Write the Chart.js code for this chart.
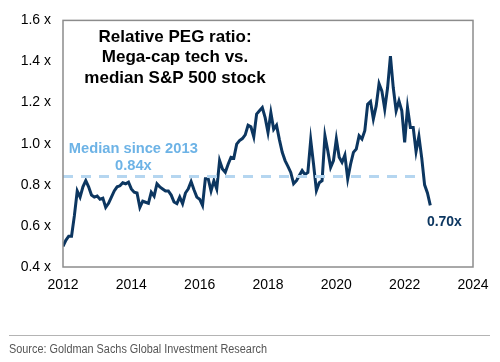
<!DOCTYPE html>
<html>
<head>
<meta charset="utf-8">
<script src="https://cdn.jsdelivr.net/npm/chart.js@4"></script>
<style>
  html, body { margin: 0; padding: 0; background: #fff; }
  #wrap { width: 500px; height: 362px; }
</style>
</head>
<body>
<div id="wrap"><canvas id="pegChart" width="500" height="362"></canvas></div>
<script>
// monthly relative PEG ratio, Jan 2012 .. Oct 2022
const startYear = 2012;
const pegValues = [
    0.50, 0.53, 0.55, 0.55, 0.65, 0.77, 0.74, 0.79, 0.82, 0.79, 0.75, 0.74,
    0.745, 0.73, 0.735, 0.69, 0.71, 0.74, 0.77, 0.79, 0.795, 0.81, 0.805, 0.813,
    0.78, 0.764, 0.76, 0.69, 0.72, 0.715, 0.71, 0.764, 0.745, 0.805, 0.79, 0.78,
    0.77, 0.77, 0.75, 0.716, 0.708, 0.74, 0.708, 0.76, 0.78, 0.816, 0.776, 0.74,
    0.73, 0.70, 0.83, 0.83, 0.77, 0.82, 0.78, 0.918, 0.877, 0.861, 0.90, 0.934,
    0.93, 0.998, 1.015, 1.025, 1.043, 1.09, 1.082, 1.034, 1.144, 1.16, 1.176, 1.127,
    1.055, 1.151, 1.07, 1.09, 1.02, 0.958, 0.918, 0.89, 0.86, 0.805, 0.82, 0.845,
    0.869, 0.85, 0.86, 1.018, 0.90, 0.772, 0.81, 0.82, 1.039, 0.966, 0.885, 0.918,
    1.023, 0.934, 0.91, 0.945, 0.829, 0.90, 0.958, 0.974, 1.039, 1.023, 1.063, 1.192,
    1.205, 1.12, 1.184, 1.292, 1.256, 1.168, 1.272, 1.426, 1.272, 1.16, 1.208, 1.16,
    1.006, 1.176, 1.079, 1.079, 0.962, 1.036, 0.93, 0.80, 0.76, 0.70
];
const medianValue = 0.84;
const medianSpan = [2012, 2022.5];
const yTicks = [0.4, 0.6, 0.8, 1.0, 1.2, 1.4, 1.6];
const xTicks = [2012, 2014, 2016, 2018, 2020, 2022, 2024];
const titleLines = ['Relative PEG ratio:', 'Mega-cap tech vs.', 'median S&P 500 stock'];

const FONT = "'Liberation Sans', Arial, sans-serif";

const pegPoints = pegValues.map((v, i) => ({x: startYear + i / 12, y: v}));
const medianPoints = medianSpan.map(x => ({x: x, y: medianValue}));

// texts + frame + source line
const decoPlugin = {
    id: 'deco',
    afterDraw(chart) {
        const c = chart.ctx;
        const xs = chart.scales.x, ys = chart.scales.y;
        const a = chart.chartArea;
        c.save();
        // frame
        c.strokeStyle = '#8c8c8c';
        c.lineWidth = 1.5;
        c.strokeRect(a.left, a.top, a.right - a.left, a.bottom - a.top);

        // title
        c.fillStyle = '#000';
        c.font = 'bold 17px ' + FONT;
        c.textAlign = 'center';
        c.textBaseline = 'middle';
        const tx = xs.getPixelForValue(2015.28);
        const ty = ys.getPixelForValue(1.52);
        titleLines.forEach((t, i) => c.fillText(t, tx, ty + i * 20.5));

        // median annotation
        c.fillStyle = '#6db3e6';
        c.font = 'bold 14.7px ' + FONT;
        c.textAlign = 'left';
        c.fillText('Median since 2013', xs.getPixelForValue(2012.17), ys.getPixelForValue(0.976));
        c.textAlign = 'center';
        c.fillText('0.84x', xs.getPixelForValue(2014.06), ys.getPixelForValue(0.893));

        // last value
        c.fillStyle = '#0c3660';
        c.font = 'bold 14px ' + FONT;
        c.textAlign = 'left';
        c.fillText('0.70x', xs.getPixelForValue(2022.65), ys.getPixelForValue(0.618));

        // source
        c.strokeStyle = '#b4b4b4';
        c.lineWidth = 1;
        c.beginPath();
        c.moveTo(9, 335.5);
        c.lineTo(490, 335.5);
        c.stroke();
        c.fillStyle = '#555';
        c.font = '12px ' + FONT;
        const src = 'Source: Goldman Sachs Global Investment Research';
        const w = c.measureText(src).width;
        c.translate(9, 350);
        c.scale(258 / w, 1);
        c.fillText(src, 0, 0);
        c.restore();
    }
};

document.addEventListener('DOMContentLoaded', function() {
    const ctx = document.getElementById('pegChart').getContext('2d');
    const data = {
        datasets: [
            {
                label: 'Median since 2013',
                data: medianPoints,
                borderColor: '#b5d6f0',
                borderWidth: 3,
                borderDash: [10, 8],
                pointRadius: 0
            },
            {
                label: 'Relative PEG ratio',
                data: pegPoints,
                borderColor: '#0c3660',
                borderWidth: 3,
                pointRadius: 0,
                tension: 0
            }
        ]
    };
    const config = {
        type: 'line',
        data: data,
        options: {
            responsive: false,
            animation: false,
            layout: {
                padding: {left: 0, right: 27, top: 19, bottom: 0}
            },
            plugins: {
                legend: {display: false},
                tooltip: {enabled: false}
            },
            scales: {
                x: {
                    type: 'linear',
                    min: 2012,
                    max: 2024,
                    afterBuildTicks: s => { s.ticks = xTicks.map(v => ({value: v})); },
                    afterFit: s => { s.height = 95; },
                    grid: {display: false, drawTicks: false},
                    border: {display: false},
                    ticks: {
                        padding: 10,
                        color: '#000',
                        font: {family: FONT, size: 14},
                        callback: v => String(v)
                    }
                },
                y: {
                    min: 0.4,
                    max: 1.6,
                    afterBuildTicks: s => { s.ticks = yTicks.map(v => ({value: v})); },
                    afterFit: s => { s.width = 63; },
                    grid: {display: false, drawTicks: false},
                    border: {display: false},
                    ticks: {
                        padding: 12,
                        color: '#000',
                        font: {family: FONT, size: 14},
                        callback: v => v.toFixed(1) + ' x'
                    }
                }
            }
        },
        plugins: [decoPlugin]
    };
    new Chart(ctx, config);
});
</script>
</body>
</html>
